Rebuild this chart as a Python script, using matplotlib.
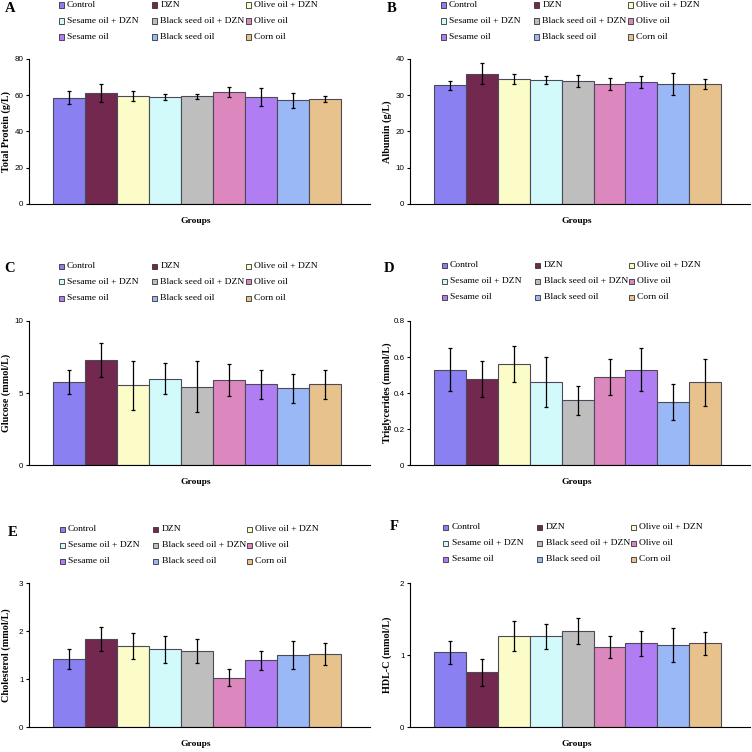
import numpy as np
import matplotlib
matplotlib.use('Agg')
import matplotlib.pyplot as plt
from matplotlib.patches import Rectangle

# Grupos y colores
grupos = ['Control', 'DZN', 'Olive oil + DZN', 'Sesame oil + DZN', 'Black seed oil + DZN',
          'Olive oil', 'Sesame oil', 'Black seed oil', 'Corn oil']
colores = ['#8A80F2', '#73284F', '#FCFCC8', '#D2FAFA', '#BEBEBE',
           '#DC87BE', '#B07EF2', '#9AB8F5', '#E8C28D']

# Datos (media y error)
proteina = [58.6, 61.2, 59.6, 59.0, 59.4, 61.8, 59.0, 57.2, 57.9]
proteina_err = [3.7, 5.0, 2.9, 1.8, 1.5, 2.7, 5.0, 4.0, 1.8]
albumina = [32.7, 35.9, 34.5, 34.2, 33.9, 33.1, 33.7, 33.1, 33.1]
albumina_err = [1.2, 2.9, 1.4, 1.1, 1.6, 1.7, 1.6, 3.1, 1.4]
glucosa = [5.76, 7.28, 5.55, 5.99, 5.44, 5.9, 5.6, 5.32, 5.6]
glucosa_err = [0.85, 1.2, 1.7, 1.06, 1.75, 1.1, 1.0, 1.0, 1.0]
triglic = [0.53, 0.48, 0.56, 0.46, 0.36, 0.49, 0.53, 0.35, 0.46]
triglic_err = [0.12, 0.10, 0.10, 0.14, 0.08, 0.10, 0.12, 0.10, 0.13]
colesterol = [1.41, 1.83, 1.68, 1.62, 1.58, 1.03, 1.39, 1.50, 1.52]
colesterol_err = [0.21, 0.25, 0.27, 0.28, 0.25, 0.17, 0.20, 0.29, 0.23]
hdl = [1.04, 0.76, 1.26, 1.26, 1.33, 1.11, 1.16, 1.14, 1.16]
hdl_err = [0.16, 0.19, 0.21, 0.17, 0.18, 0.15, 0.17, 0.24, 0.16]

letras = ['A', 'B', 'C', 'D', 'E', 'F']
ylabels = ['Total Protein (g/L)', 'Albumin (g/L)', 'Glucose (mmol/L)',
           'Triglycerides (mmol/L)', 'Cholesterol (mmol/L)', 'HDL-C (mmol/L)']
ymax = [80, 40, 10, 0.8, 3, 2]
yticks = [[0, 20, 40, 60, 80], [0, 10, 20, 30, 40], [0, 5, 10],
          [0, 0.2, 0.4, 0.6, 0.8], [0, 1, 2, 3], [0, 1, 2]]
yticklabels = [['0', '20', '40', '60', '80'], ['0', '10', '20', '30', '40'], ['0', '5', '10'],
               ['0', '0.2', '0.4', '0.6', '0.8'], ['0', '1', '2', '3'], ['0', '1', '2']]
medias = [proteina, albumina, glucosa, triglic, colesterol, hdl]
errores = [proteina_err, albumina_err, glucosa_err, triglic_err, colesterol_err, hdl_err]

W = 752.0
serif = 'Liberation Serif'
sans = 'Liberation Sans'

fig = plt.figure(figsize=(7.52, 7.52), dpi=100)

# posiciones en pixeles: (x izq, ancho) por columna, (arriba, abajo) por fila
cols = [(29, 341), (410, 340)]
filas = [(59, 204), (321, 465), (583, 727)]
leg_x = [[61, 443], [61, 444], [62, 446]]
leg_y = [[5, 5], [266, 265], [529, 527]]
letra_pos = [(10, 9), (392, 9), (10, 269), (389, 268), (13, 533), (394, 527)]

x = np.arange(len(grupos))
for k in range(6):
    r, c = k // 2, k % 2
    x0, w = cols[c]
    top, bot = filas[r]
    ax = fig.add_axes([x0 / W, 1 - bot / W, w / W, (bot - top) / W])
    ax.bar(x, medias[k], width=1.0, color=colores, edgecolor='#4a4a5a', linewidth=0.8,
           yerr=errores[k], capsize=1.6, error_kw=dict(elinewidth=0.9, capthick=0.9, ecolor='black'))
    ax.set_xlim(-1.25, 9.4)
    ax.set_ylim(0, ymax[k])
    ax.set_yticks(yticks[k])
    ax.set_yticklabels(yticklabels[k], fontfamily=sans, fontsize=5.8)
    ax.set_xticks([])
    for s in ['top', 'right']:
        ax.spines[s].set_visible(False)
    ax.spines['left'].set_linewidth(0.8)
    ax.spines['bottom'].set_linewidth(0.8)
    ax.tick_params(axis='y', length=2.5, width=0.8, pad=1.5)
    ax.set_ylabel(ylabels[k], fontfamily=serif, fontweight='bold', fontsize=7.3)
    ax.yaxis.set_label_coords(-0.052, 0.5)
    ax.set_xlabel('Groups', fontfamily=serif, fontweight='bold', fontsize=6.8)
    ax.xaxis.set_label_coords(0.49, -0.09)

    # letra del panel
    lx, ly = letra_pos[k]
    fig.text(lx / W, 1 - ly / W, letras[k], fontfamily=serif, fontweight='bold',
             fontsize=10.5, ha='center', va='center')

    # leyenda tipo Excel (columnas de ancho fijo)
    mx = leg_x[r][c]
    my = leg_y[r][c]
    for i, g in enumerate(grupos):
        cx = mx + (i % 3) * 93.5
        cy = my + (i // 3) * 16
        fig.add_artist(Rectangle(((cx - 2.5) / W, 1 - (cy + 2.5) / W), 5 / W, 5 / W,
                                 transform=fig.transFigure, facecolor=colores[i],
                                 edgecolor='#333333', linewidth=0.6))
        fig.text((cx + 6) / W, 1 - cy / W, g, fontfamily=serif, fontsize=6.8,
                 ha='left', va='center')

fig.savefig('out.png', dpi=100)
